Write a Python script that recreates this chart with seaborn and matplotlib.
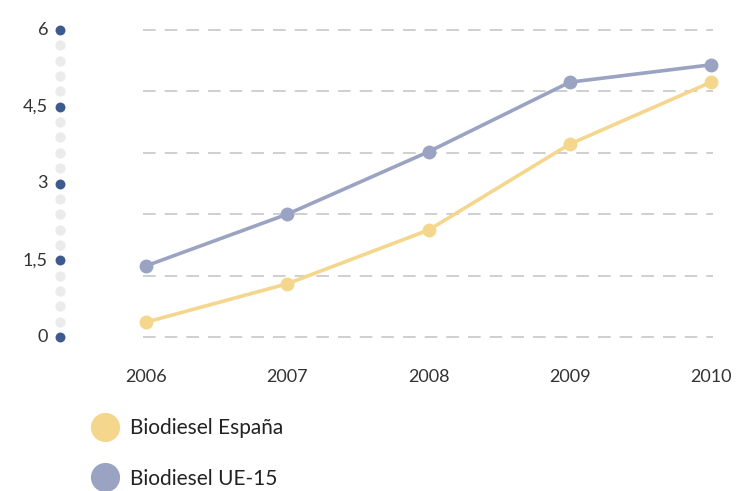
import matplotlib
matplotlib.use('Agg')

import matplotlib.pyplot as plt
import matplotlib.transforms as mtransforms
from matplotlib.lines import Line2D
import numpy as np
import pandas as pd
import seaborn as sns

years = [2006, 2007, 2008, 2009, 2010]
espana = [0.29, 1.04, 2.09, 3.77, 4.98]
ue15 = [1.39, 2.40, 3.62, 4.98, 5.32]
series_names = ['Biodiesel España', 'Biodiesel UE-15']
colors = ['#f5d68d', '#9ba3c3']
ytick_values = [0, 1.5, 3, 4.5, 6]
ytick_labels = ['0', '1,5', '3', '4,5', '6']

df = pd.DataFrame({
    'year': years * 2,
    'value': espana + ue15,
    'serie': [series_names[0]] * len(years) + [series_names[1]] * len(years),
})

sns.set_style('white')
plt.rcParams['font.family'] = ['Lato', 'DejaVu Sans']

W, H = 745, 491
fig = plt.figure(figsize=(W / 100, H / 100), dpi=100)
# axes placed in pixel terms
left, right, top, bottom = 143, 713, 30, 337
ax = fig.add_axes([left / W, (H - bottom) / H, (right - left) / W, (bottom - top) / H])

# dashed grid every 1.2
for g in np.arange(0, 6.01, 1.2):
    ax.axhline(g, color='#cccccc', lw=1.3, dashes=(7, 5), zorder=0)

sns.lineplot(data=df, x='year', y='value', hue='serie', hue_order=series_names[::-1],
             palette=dict(zip(series_names, colors)), marker='o', markersize=10,
             markeredgewidth=0, linewidth=2.6, legend=False, ax=ax)
for ln in ax.lines:
    ln.set_clip_on(False)

px = 1 / 141.25
ax.set_xlim(2006 - 3 * px, 2010 + 2 * px)
ax.set_ylim(0, 6)
sns.despine(ax=ax, left=True, bottom=True)
ax.set_xlabel('')
ax.set_ylabel('')

ax.set_xticks(years)
ax.set_xticklabels([str(y) for y in years], fontsize=13, color='#333333')
ax.tick_params(axis='x', length=0, pad=23)
ax.set_yticks([])

# dotted y axis drawn left of the plot
trans = mtransforms.blended_transform_factory(fig.transFigure, ax.transData)
xdot = 60 / W
small = np.arange(0, 6.01, 0.3)
ax.scatter([xdot] * len(small), small, s=55, color='#ebebeb', transform=trans,
           clip_on=False, zorder=3, linewidths=0)
ax.scatter([xdot] * len(ytick_values), ytick_values, s=50, color='#3d5a8e', transform=trans,
           clip_on=False, zorder=4, linewidths=0)
for v, lab in zip(ytick_values, ytick_labels):
    ax.text(48 / W, v, lab, transform=trans, ha='right', va='center',
            fontsize=13, color='#333333')

handles = [Line2D([], [], marker='o', linestyle='', markersize=21, color=c, markeredgewidth=0)
           for c in colors]
fig.legend(handles, series_names, loc='upper left', bbox_to_anchor=(76 / W, 1 - 410 / H),
           frameon=False, fontsize=15, labelspacing=1.45, handletextpad=0.2,
           borderaxespad=0, labelcolor='#222222')

fig.savefig('out.png', dpi=100)
